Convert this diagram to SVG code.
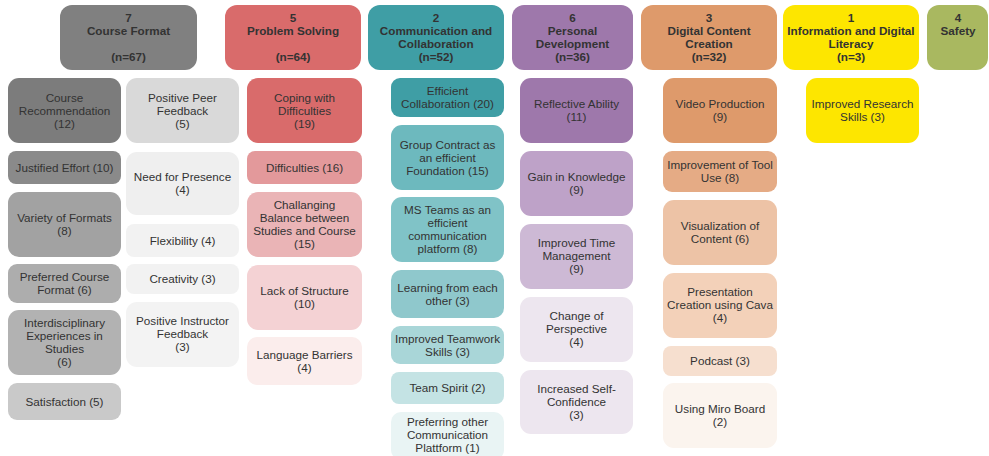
<svg xmlns="http://www.w3.org/2000/svg" width="989" height="456" viewBox="0 0 989 456">
  <style>
    text { font-family: "Liberation Sans", Arial, sans-serif; fill: #333333; text-anchor: middle; }
    .h { font-size: 11.7px; font-weight: bold; }
    .s { font-size: 11.7px; }
  </style>
  <rect width="989" height="456" fill="#ffffff"/>

  <!-- category headers -->
  <g id="h-course-format">
    <rect x="60" y="5" width="137" height="65" rx="12" fill="#808080"/>
    <text class="h" x="128.5" y="22">7</text>
    <text class="h" x="128.5" y="35">Course Format</text>
    <text class="h" x="128.5" y="61">(n=67)</text>
  </g>
  <g id="h-problem-solving">
    <rect x="225" y="5" width="136" height="65" rx="12" fill="#d96b6b"/>
    <text class="h" x="293" y="22">5</text>
    <text class="h" x="293" y="35">Problem Solving</text>
    <text class="h" x="293" y="61">(n=64)</text>
  </g>
  <g id="h-communication">
    <rect x="368" y="5" width="136" height="65" rx="12" fill="#3f9ea5"/>
    <text class="h" x="436" y="22">2</text>
    <text class="h" x="436" y="35">Communication and</text>
    <text class="h" x="436" y="48">Collaboration</text>
    <text class="h" x="436" y="61">(n=52)</text>
  </g>
  <g id="h-personal-development">
    <rect x="512" y="5" width="121" height="65" rx="12" fill="#9e78ab"/>
    <text class="h" x="572.5" y="22">6</text>
    <text class="h" x="572.5" y="35">Personal</text>
    <text class="h" x="572.5" y="48">Development</text>
    <text class="h" x="572.5" y="61">(n=36)</text>
  </g>
  <g id="h-digital-content">
    <rect x="641" y="5" width="136" height="65" rx="12" fill="#de9a6b"/>
    <text class="h" x="709" y="22">3</text>
    <text class="h" x="709" y="35">Digital Content</text>
    <text class="h" x="709" y="48">Creation</text>
    <text class="h" x="709" y="61">(n=32)</text>
  </g>
  <g id="h-information">
    <rect x="783" y="5" width="136" height="65" rx="12" fill="#fde600"/>
    <text class="h" x="851" y="22">1</text>
    <text class="h" x="851" y="35">Information and Digital</text>
    <text class="h" x="851" y="48">Literacy</text>
    <text class="h" x="851" y="61">(n=3)</text>
  </g>
  <g id="h-safety">
    <rect x="927" y="5" width="61" height="65" rx="12" fill="#a9b860"/>
    <text class="h" x="958" y="22">4</text>
    <text class="h" x="958" y="35">Safety</text>
  </g>

  <!-- Course Format, left column -->
  <g id="cf-recommendation">
    <rect x="8" y="78" width="113" height="65" rx="11" fill="#7c7c7c"/>
    <text class="s" x="64.5" y="102">Course</text>
    <text class="s" x="64.5" y="115">Recommendation</text>
    <text class="s" x="64.5" y="128">(12)</text>
  </g>
  <g id="cf-justified-effort">
    <rect x="8" y="151" width="113" height="33" rx="8" fill="#8a8a8a"/>
    <text class="s" x="64.5" y="171.5">Justified Effort (10)</text>
  </g>
  <g id="cf-variety">
    <rect x="8" y="192" width="113" height="65" rx="11" fill="#a2a2a2"/>
    <text class="s" x="64.5" y="222">Variety of Formats</text>
    <text class="s" x="64.5" y="235">(8)</text>
  </g>
  <g id="cf-preferred">
    <rect x="8" y="264" width="113" height="39" rx="9" fill="#adadad"/>
    <text class="s" x="64.5" y="281">Preferred Course</text>
    <text class="s" x="64.5" y="294">Format (6)</text>
  </g>
  <g id="cf-interdisciplinary">
    <rect x="8" y="310" width="113" height="65" rx="11" fill="#b2b2b2"/>
    <text class="s" x="64.5" y="327">Interdisciplinary</text>
    <text class="s" x="64.5" y="340">Experiences in</text>
    <text class="s" x="64.5" y="353">Studies</text>
    <text class="s" x="64.5" y="366">(6)</text>
  </g>
  <g id="cf-satisfaction">
    <rect x="8" y="383" width="113" height="37" rx="9" fill="#c9c9c9"/>
    <text class="s" x="64.5" y="405.5">Satisfaction (5)</text>
  </g>

  <!-- Course Format, right column -->
  <g id="cf-peer-feedback">
    <rect x="126" y="78" width="113" height="65" rx="11" fill="#d9d9d9"/>
    <text class="s" x="182.5" y="102">Positive Peer</text>
    <text class="s" x="182.5" y="115">Feedback</text>
    <text class="s" x="182.5" y="128">(5)</text>
  </g>
  <g id="cf-presence">
    <rect x="126" y="152" width="113" height="63" rx="11" fill="#efefef"/>
    <text class="s" x="182.5" y="181">Need for Presence</text>
    <text class="s" x="182.5" y="194">(4)</text>
  </g>
  <g id="cf-flexibility">
    <rect x="126" y="224" width="113" height="33" rx="8" fill="#f2f2f2"/>
    <text class="s" x="182.5" y="244.5">Flexibility (4)</text>
  </g>
  <g id="cf-creativity">
    <rect x="126" y="264" width="113" height="30" rx="8" fill="#f2f2f2"/>
    <text class="s" x="182.5" y="283">Creativity (3)</text>
  </g>
  <g id="cf-instructor-feedback">
    <rect x="126" y="302" width="113" height="65" rx="11" fill="#f3f3f3"/>
    <text class="s" x="182.5" y="325">Positive Instructor</text>
    <text class="s" x="182.5" y="338">Feedback</text>
    <text class="s" x="182.5" y="351">(3)</text>
  </g>

  <!-- Problem Solving -->
  <g id="ps-coping">
    <rect x="247" y="78" width="115" height="65" rx="11" fill="#d96b6b"/>
    <text class="s" x="304.5" y="102">Coping with</text>
    <text class="s" x="304.5" y="115">Difficulties</text>
    <text class="s" x="304.5" y="128">(19)</text>
  </g>
  <g id="ps-difficulties">
    <rect x="247" y="151" width="115" height="33" rx="8" fill="#e3999b"/>
    <text class="s" x="304.5" y="171.5">Difficulties (16)</text>
  </g>
  <g id="ps-balance">
    <rect x="247" y="192" width="115" height="65" rx="11" fill="#eab4b6"/>
    <text class="s" x="304.5" y="209">Challanging</text>
    <text class="s" x="304.5" y="222">Balance between</text>
    <text class="s" x="304.5" y="235">Studies and Course</text>
    <text class="s" x="304.5" y="248">(15)</text>
  </g>
  <g id="ps-structure">
    <rect x="247" y="265" width="115" height="65" rx="11" fill="#f4d2d4"/>
    <text class="s" x="304.5" y="295">Lack of Structure</text>
    <text class="s" x="304.5" y="308">(10)</text>
  </g>
  <g id="ps-language">
    <rect x="247" y="337" width="115" height="48" rx="10" fill="#fbedec"/>
    <text class="s" x="304.5" y="358.5">Language Barriers</text>
    <text class="s" x="304.5" y="371.5">(4)</text>
  </g>

  <!-- Communication and Collaboration -->
  <g id="cc-efficient">
    <rect x="391" y="78" width="113" height="39" rx="9" fill="#3f9ea5"/>
    <text class="s" x="447.5" y="95">Efficient</text>
    <text class="s" x="447.5" y="108">Collaboration (20)</text>
  </g>
  <g id="cc-group-contract">
    <rect x="391" y="125" width="113" height="65" rx="11" fill="#6db9be"/>
    <text class="s" x="447.5" y="149">Group Contract as</text>
    <text class="s" x="447.5" y="162">an efficient</text>
    <text class="s" x="447.5" y="175">Foundation (15)</text>
  </g>
  <g id="cc-ms-teams">
    <rect x="391" y="197" width="113" height="65" rx="11" fill="#80c3c7"/>
    <text class="s" x="447.5" y="214">MS Teams as an</text>
    <text class="s" x="447.5" y="227">efficient</text>
    <text class="s" x="447.5" y="240">communication</text>
    <text class="s" x="447.5" y="253">platform (8)</text>
  </g>
  <g id="cc-learning">
    <rect x="391" y="270" width="113" height="48" rx="10" fill="#8fc8cc"/>
    <text class="s" x="447.5" y="291.5">Learning from each</text>
    <text class="s" x="447.5" y="304.5">other (3)</text>
  </g>
  <g id="cc-teamwork">
    <rect x="391" y="326" width="113" height="38" rx="9" fill="#a9d6d8"/>
    <text class="s" x="447.5" y="342.5">Improved Teamwork</text>
    <text class="s" x="447.5" y="355.5">Skills (3)</text>
  </g>
  <g id="cc-team-spirit">
    <rect x="391" y="372" width="113" height="32" rx="8" fill="#c4e3e4"/>
    <text class="s" x="447.5" y="392">Team Spirit (2)</text>
  </g>
  <g id="cc-other-platform">
    <rect x="391" y="412" width="113" height="48" rx="10" fill="#e9f4f4"/>
    <text class="s" x="447.5" y="426">Preferring other</text>
    <text class="s" x="447.5" y="439">Communication</text>
    <text class="s" x="447.5" y="452">Plattform (1)</text>
  </g>

  <!-- Personal Development -->
  <g id="pd-reflective">
    <rect x="520" y="78" width="113" height="65" rx="11" fill="#9e78ab"/>
    <text class="s" x="576.5" y="108">Reflective Ability</text>
    <text class="s" x="576.5" y="121">(11)</text>
  </g>
  <g id="pd-knowledge">
    <rect x="520" y="151" width="113" height="65" rx="11" fill="#bea2c8"/>
    <text class="s" x="576.5" y="181">Gain in Knowledge</text>
    <text class="s" x="576.5" y="194">(9)</text>
  </g>
  <g id="pd-time">
    <rect x="520" y="224" width="113" height="65" rx="11" fill="#cdb9d5"/>
    <text class="s" x="576.5" y="247">Improved Time</text>
    <text class="s" x="576.5" y="260">Management</text>
    <text class="s" x="576.5" y="273">(9)</text>
  </g>
  <g id="pd-perspective">
    <rect x="520" y="297" width="113" height="65" rx="11" fill="#ede6ef"/>
    <text class="s" x="576.5" y="320">Change of</text>
    <text class="s" x="576.5" y="333">Perspective</text>
    <text class="s" x="576.5" y="346">(4)</text>
  </g>
  <g id="pd-confidence">
    <rect x="520" y="370" width="113" height="64" rx="11" fill="#ede6ef"/>
    <text class="s" x="576.5" y="393">Increased Self-</text>
    <text class="s" x="576.5" y="406">Confidence</text>
    <text class="s" x="576.5" y="419">(3)</text>
  </g>

  <!-- Digital Content Creation -->
  <g id="dc-video">
    <rect x="663" y="78" width="114" height="65" rx="11" fill="#de9a6b"/>
    <text class="s" x="720" y="108">Video Production</text>
    <text class="s" x="720" y="121">(9)</text>
  </g>
  <g id="dc-tool-use">
    <rect x="663" y="151" width="114" height="41" rx="9" fill="#e5ab85"/>
    <text class="s" x="720" y="168.5">Improvement of Tool</text>
    <text class="s" x="720" y="181.5">Use (8)</text>
  </g>
  <g id="dc-visualization">
    <rect x="663" y="200" width="114" height="65" rx="11" fill="#edc3a6"/>
    <text class="s" x="720" y="230">Visualization of</text>
    <text class="s" x="720" y="243">Content (6)</text>
  </g>
  <g id="dc-presentation">
    <rect x="663" y="273" width="114" height="65" rx="11" fill="#f3d1b9"/>
    <text class="s" x="720" y="296">Presentation</text>
    <text class="s" x="720" y="309">Creation using Cava</text>
    <text class="s" x="720" y="322">(4)</text>
  </g>
  <g id="dc-podcast">
    <rect x="663" y="346" width="114" height="30" rx="8" fill="#f6dfcf"/>
    <text class="s" x="720" y="365">Podcast (3)</text>
  </g>
  <g id="dc-miro">
    <rect x="663" y="383" width="114" height="65" rx="11" fill="#fbf4ee"/>
    <text class="s" x="720" y="413">Using Miro Board</text>
    <text class="s" x="720" y="426">(2)</text>
  </g>

  <!-- Information and Digital Literacy -->
  <g id="id-research">
    <rect x="806" y="78" width="113" height="65" rx="11" fill="#fde600"/>
    <text class="s" x="862.5" y="108">Improved Research</text>
    <text class="s" x="862.5" y="121">Skills (3)</text>
  </g>

  <!-- no connectors are drawn between the boxes -->
  <g id="connectors"></g>
</svg>
